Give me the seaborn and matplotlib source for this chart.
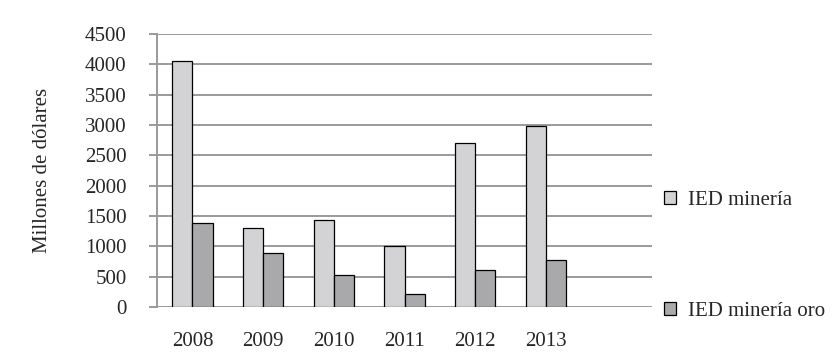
import matplotlib
matplotlib.use('Agg')
import matplotlib.pyplot as plt
import seaborn as sns
import pandas as pd

# Data
years = ['2008', '2009', '2010', '2011', '2012', '2013']
ied_mineria = [4050, 1300, 1430, 1010, 2700, 2980]
ied_mineria_oro = [1380, 885, 525, 210, 610, 775]
series_names = ['IED minería', 'IED minería oro']

df = pd.DataFrame({
    'anio': years * 2,
    'valor': ied_mineria + ied_mineria_oro,
    'serie': [series_names[0]] * len(years) + [series_names[1]] * len(years),
})

sns.set_style("white")
plt.rcParams['font.family'] = ['Liberation Serif', 'DejaVu Serif']
fs = 15

grid_col = '#9a9a9a'

fig = plt.figure(figsize=(8.37, 3.58), dpi=100)
ax = fig.add_axes([0.1876, 0.1425, 0.5914, 0.7625])

sns.barplot(data=df, x='anio', y='valor', hue='serie', order=years,
            hue_order=series_names, palette=['#d3d3d5', '#a9a9ac'],
            width=0.57, edgecolor='black', linewidth=0.9, saturation=1,
            ax=ax, zorder=3)

ax.set_xlim(-0.5, 6.5)
ax.set_ylim(0, 4500)
ax.set_yticks(range(0, 4501, 500))
ax.yaxis.grid(True, color=grid_col, linewidth=1.4, zorder=0)
ax.xaxis.grid(False)

for side in ['top', 'right', 'bottom']:
    ax.spines[side].set_visible(False)
ax.spines['left'].set_color(grid_col)
ax.spines['left'].set_linewidth(1.4)

ax.tick_params(axis='y', which='major', length=6, width=1.4, color=grid_col,
               pad=16, labelsize=fs, left=True)
ax.tick_params(axis='x', length=0, pad=18, labelsize=fs)

ax.set_xlabel('')
ax.set_ylabel('Millones de dólares', fontsize=fs)
ax.yaxis.set_label_coords(-0.212, 0.5)

ax.legend(loc='upper left', bbox_to_anchor=(1.024, 0.425), frameon=False,
          labelspacing=4.4, handlelength=0.6, handleheight=0.6,
          handletextpad=0.55, fontsize=fs, borderaxespad=0, borderpad=0)

fig.savefig('out.png', dpi=100)
